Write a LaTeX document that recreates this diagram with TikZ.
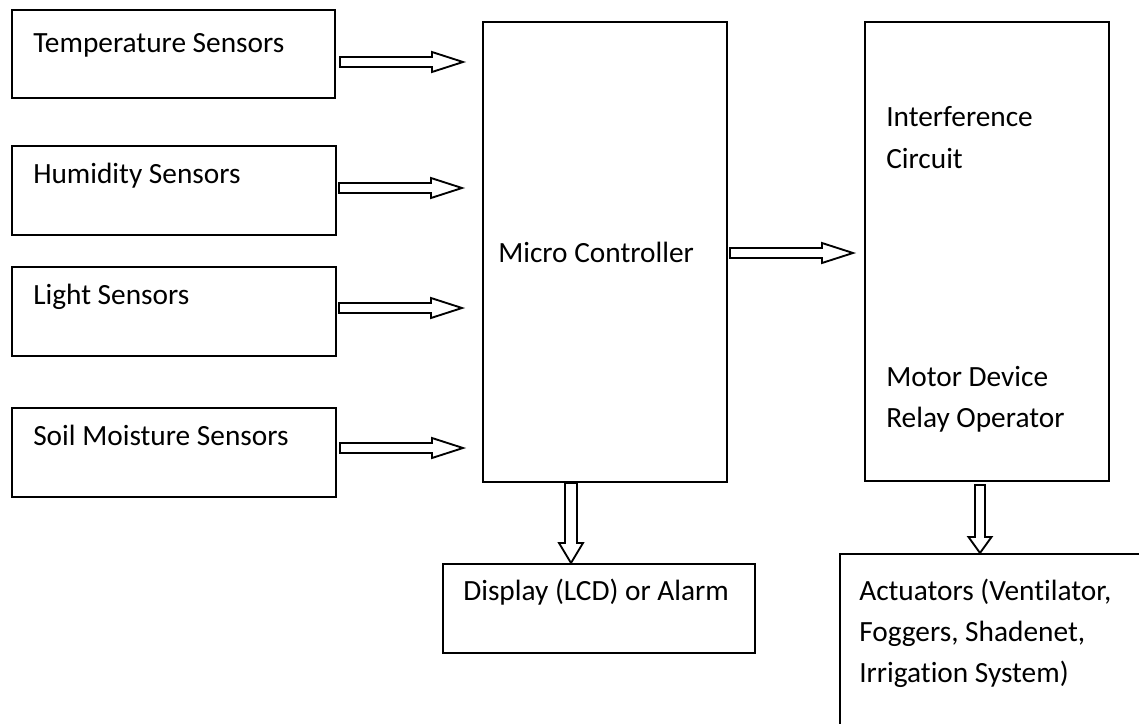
\documentclass[tikz,border=0pt]{standalone}
\usepackage{fontspec}
\setmainfont{Carlito}[Ligatures=NoCommon]
\usetikzlibrary{calc}

\tikzset{
  box/.style={draw=black, line width=1.5pt, rectangle, inner sep=0pt, anchor=north west},
  txt/.style={anchor=base west, inner sep=0pt, font=\fontsize{22pt}{30.75pt}\selectfont},
  blockarrow/.style={draw=black, fill=white, line width=1.4pt, line join=miter},
}

% horizontal block arrow from #1 (tail) to #2 (tip)
\newcommand{\harrow}[2]{%
  \draw[blockarrow] ($(#1)+(0,-5)$) -- ($(#2)+(-31,-5)$) -- ($(#2)+(-31,-10)$) -- (#2)
    -- ($(#2)+(-31,10)$) -- ($(#2)+(-31,5)$) -- ($(#1)+(0,5)$) -- cycle;}
% vertical block arrow from #1 (tail) down to #2 (tip)
\newcommand{\varrow}[5]{%
  \draw[blockarrow] ($(#1)+(-#3,0)$) -- ($(#2)+(-#3,-#5)$) -- ($(#2)+(-#4,-#5)$) -- (#2)
    -- ($(#2)+(#4,-#5)$) -- ($(#2)+(#3,-#5)$) -- ($(#1)+(#3,0)$) -- cycle;}

\begin{document}
\begin{tikzpicture}[x=0.75pt, y=-0.75pt]
  \useasboundingbox (0,0) rectangle (1139,724);
  \clip (0,0) rectangle (1139,724);

  % sensor boxes
  \node[box, minimum width=323*0.75pt, minimum height=88*0.75pt] (temp)  at (11,9)   {};
  \node[box, minimum width=324*0.75pt, minimum height=89*0.75pt] (hum)   at (11,145) {};
  \node[box, minimum width=324*0.75pt, minimum height=89*0.75pt] (light) at (11,266) {};
  \node[box, minimum width=324*0.75pt, minimum height=89*0.75pt] (soil)  at (11,407) {};

  % controller, interface, display and actuator boxes
  \node[box, minimum width=244*0.75pt, minimum height=460*0.75pt] (mcu)   at (482,21)  {};
  \node[box, minimum width=244*0.75pt, minimum height=459*0.75pt] (iface) at (864,21)  {};
  \node[box, minimum width=312*0.75pt, minimum height=89*0.75pt]  (disp)  at (442,563) {};
  \node[box, minimum width=340*0.75pt, minimum height=200*0.75pt] (act)   at (839,553) {};

  % labels
  \node[txt] (tTemp)  at (33,53)   {Temperature Sensors};
  \node[txt] (tHum)   at (33,183)  {Humidity Sensors};
  \node[txt] (tLight) at (33,304)  {Light Sensors};
  \node[txt] (tSoil)  at (33,445)  {Soil Moisture Sensors};
  \node[txt] (tMcu)   at (498,262) {Micro Controller};
  \node[txt] (tIf1)   at (886,127) {Interference};
  \node[txt] (tIf2)   at (886,168) {Circuit};
  \node[txt] (tMot1)  at (886,386) {Motor Device};
  \node[txt] (tMot2)  at (886,427) {Relay Operator};
  \node[txt] (tDisp)  at (463,600) {Display (LCD) or Alarm};
  \node[txt] (tAct1)  at (859,600) {Actuators (Ventilator,};
  \node[txt] (tAct2)  at (859,641) {Foggers, Shadenet,};
  \node[txt] (tAct3)  at (859,682) {Irrigation System)};

  % arrow end points
  \coordinate (a1s) at (340,62);  \coordinate (a1e) at (463,62);
  \coordinate (a2s) at (339,188); \coordinate (a2e) at (462,188);
  \coordinate (a3s) at (339,308); \coordinate (a3e) at (462,308);
  \coordinate (a4s) at (340,448); \coordinate (a4e) at (463,448);
  \coordinate (a5s) at (730,253); \coordinate (a5e) at (853,253);
  \coordinate (d1s) at ($(mcu.south west)+(89,0)$);
  \coordinate (d1e) at ($(disp.north west)+(129,0)$);
  \coordinate (d2s) at (980,485); \coordinate (d2e) at ($(act.north west)+(141,0)$);

  % block arrows
  \harrow{a1s}{a1e}
  \harrow{a2s}{a2e}
  \harrow{a3s}{a3e}
  \harrow{a4s}{a4e}
  \harrow{a5s}{a5e}
  \varrow{d1s}{d1e}{6}{12}{20}
  \varrow{d2s}{d2e}{5}{11.5}{16}
\end{tikzpicture}
\end{document}
